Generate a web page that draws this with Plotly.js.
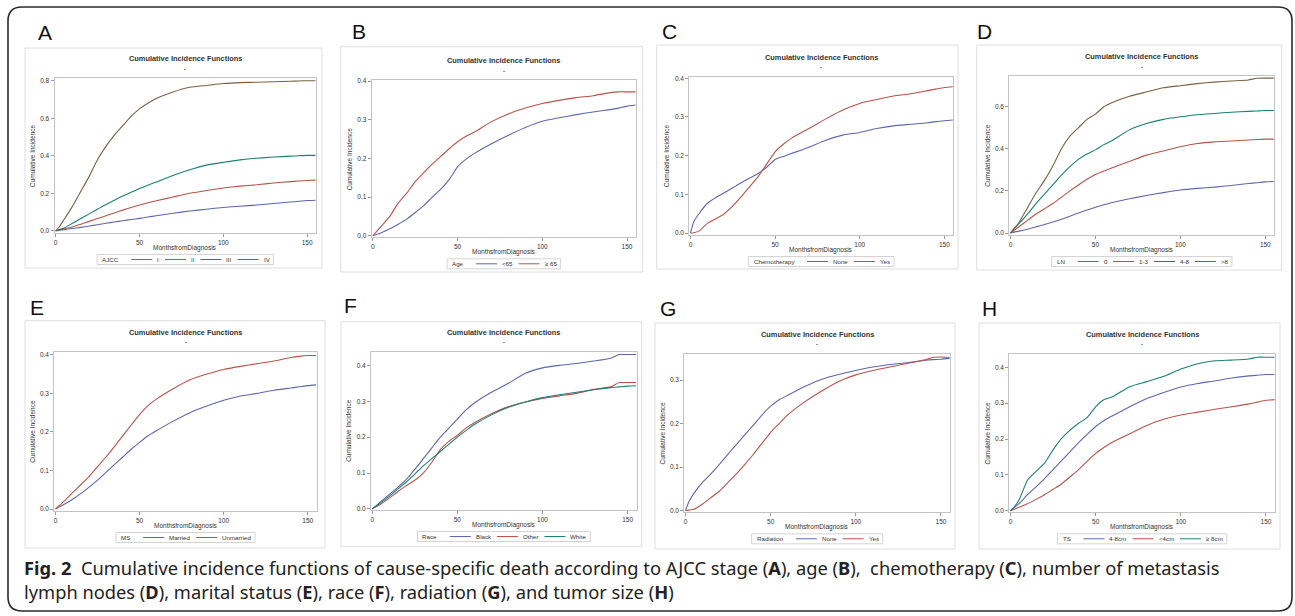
<!DOCTYPE html>
<html><head><meta charset="utf-8">
<script src="https://cdn.plot.ly/plotly-3.0.1.min.js"></script>
<style>html,body{margin:0;padding:0;background:#fff}#chart{width:1295px;height:616px}</style>
</head><body><div id="chart"></div>
<script>
// ---------------- DATA ----------------
const months = [0,2,5,10,15,20,25,30,35,40,45,50,55,60,70,80,90,100,110,120,130,140,145,150,155];

// A: AJCC stage
const ajcc_I   = [0,0.002,0.006,0.012,0.018,0.025,0.032,0.04,0.047,0.053,0.06,0.066,0.073,0.08,0.093,0.105,0.115,0.124,0.131,0.137,0.145,0.153,0.157,0.161,0.163];
const ajcc_II  = [0,0.004,0.01,0.02,0.035,0.05,0.065,0.08,0.095,0.11,0.124,0.137,0.149,0.16,0.18,0.2,0.215,0.228,0.238,0.245,0.255,0.262,0.265,0.268,0.27];
const ajcc_III = [0,0.006,0.015,0.04,0.065,0.09,0.115,0.14,0.163,0.185,0.205,0.225,0.243,0.26,0.295,0.325,0.35,0.365,0.378,0.387,0.393,0.398,0.4,0.402,0.402];
const ajcc_IV  = [0,0.02,0.06,0.13,0.21,0.29,0.38,0.45,0.51,0.56,0.61,0.65,0.68,0.705,0.74,0.765,0.775,0.785,0.79,0.792,0.795,0.797,0.799,0.8,0.8];
// B: Age
const age_lt65 = [0,0.003,0.008,0.018,0.03,0.043,0.06,0.078,0.1,0.12,0.145,0.178,0.198,0.213,0.238,0.26,0.28,0.296,0.305,0.313,0.32,0.326,0.33,0.335,0.338];
const age_ge65 = [0,0.01,0.025,0.05,0.085,0.11,0.14,0.163,0.185,0.205,0.225,0.243,0.257,0.268,0.295,0.315,0.33,0.342,0.35,0.357,0.362,0.37,0.372,0.372,0.372];
// C: Chemotherapy
const chemo_none = [0,0.03,0.05,0.077,0.092,0.104,0.117,0.13,0.142,0.154,0.17,0.19,0.198,0.206,0.222,0.24,0.253,0.26,0.27,0.277,0.281,0.285,0.288,0.29,0.292];
const chemo_yes  = [0,0.001,0.005,0.025,0.037,0.05,0.07,0.094,0.12,0.146,0.178,0.21,0.23,0.246,0.27,0.295,0.318,0.335,0.345,0.354,0.36,0.368,0.372,0.376,0.378];
// D: Lymph nodes
const ln_0    = [0,0.004,0.009,0.018,0.029,0.04,0.052,0.065,0.08,0.095,0.109,0.122,0.134,0.145,0.163,0.178,0.192,0.204,0.212,0.218,0.226,0.235,0.239,0.243,0.245];
const ln_1_3  = [0,0.012,0.03,0.06,0.09,0.115,0.14,0.17,0.2,0.228,0.255,0.278,0.295,0.31,0.34,0.37,0.39,0.41,0.425,0.433,0.437,0.442,0.444,0.446,0.446];
const ln_4_8  = [0,0.02,0.045,0.09,0.14,0.185,0.23,0.275,0.315,0.35,0.375,0.395,0.42,0.44,0.49,0.52,0.54,0.552,0.562,0.568,0.574,0.578,0.58,0.582,0.582];
const ln_gt8  = [0,0.02,0.05,0.12,0.19,0.25,0.32,0.4,0.46,0.5,0.54,0.565,0.6,0.62,0.65,0.67,0.69,0.7,0.71,0.717,0.722,0.727,0.735,0.736,0.736];
// E: Marital status
const ms_married   = [0,0.005,0.012,0.025,0.04,0.057,0.075,0.095,0.115,0.135,0.155,0.173,0.19,0.203,0.228,0.25,0.267,0.282,0.293,0.3,0.308,0.314,0.317,0.32,0.322];
const ms_unmarried = [0,0.008,0.02,0.042,0.063,0.085,0.11,0.135,0.162,0.19,0.218,0.245,0.268,0.285,0.312,0.335,0.35,0.362,0.37,0.377,0.384,0.393,0.396,0.398,0.398];
// F: Race
const race_black = [0,0.008,0.02,0.04,0.06,0.082,0.11,0.14,0.17,0.2,0.225,0.25,0.275,0.295,0.325,0.35,0.378,0.393,0.4,0.405,0.412,0.42,0.43,0.43,0.43];
const race_other = [0,0.005,0.013,0.03,0.048,0.065,0.08,0.1,0.13,0.165,0.188,0.205,0.225,0.24,0.265,0.285,0.298,0.308,0.315,0.322,0.333,0.34,0.352,0.352,0.352];
const race_white = [0,0.007,0.017,0.035,0.055,0.075,0.097,0.12,0.14,0.16,0.18,0.2,0.218,0.235,0.262,0.283,0.298,0.31,0.318,0.325,0.332,0.338,0.34,0.342,0.343];
// G: Radiation
const rad_none = [0,0.02,0.04,0.065,0.085,0.107,0.13,0.152,0.175,0.197,0.22,0.24,0.255,0.265,0.285,0.302,0.313,0.322,0.33,0.336,0.34,0.345,0.347,0.348,0.35];
const rad_yes  = [0,0.001,0.003,0.015,0.03,0.045,0.065,0.085,0.107,0.13,0.155,0.18,0.2,0.22,0.25,0.275,0.297,0.312,0.322,0.33,0.338,0.346,0.352,0.353,0.352];
// H: Tumor size
const ts_4_8 = [0,0.008,0.02,0.045,0.067,0.09,0.115,0.14,0.165,0.19,0.213,0.235,0.252,0.265,0.29,0.313,0.33,0.345,0.355,0.362,0.37,0.376,0.378,0.38,0.38];
const ts_lt4 = [0,0.004,0.01,0.02,0.032,0.045,0.06,0.075,0.095,0.115,0.138,0.16,0.177,0.192,0.215,0.238,0.255,0.267,0.275,0.283,0.29,0.298,0.303,0.308,0.31];
const ts_ge8 = [0,0.01,0.03,0.086,0.11,0.133,0.17,0.202,0.225,0.244,0.26,0.29,0.31,0.318,0.346,0.36,0.375,0.395,0.41,0.418,0.42,0.423,0.428,0.428,0.428];

const xTicks = [0,50,100,150];
const chartTitle = 'Cumulative Incidence Functions';
const xTitle = 'MonthsfromDiagnosis';
const yTitle = 'Cumulative Incidence';

// ---------------- STYLE / LAYOUT ----------------
const BLUE='#5d68ac', RED='#b8544a', TEAL='#1c8073', BROWN='#7b6044';
const W=1295, H=616;
const FONT='"Liberation Sans", Arial, sans-serif';

const panels = [
 {letter:'A', lt:'AJCC', names:['I','II','III','IV'], ys:[ajcc_I,ajcc_II,ajcc_III,ajcc_IV], cols:[BLUE,RED,TEAL,BROWN],
  frame:[54.5,316,78.3,233], box:[25,48,322,268], yr:[-0.012,0.813], yt:[0,0.2,0.4,0.6,0.8], lab:[36,33]},
 {letter:'B', lt:'Age', names:['<65','\u2265 65'], ys:[age_lt65,age_ge65], cols:[BLUE,RED],
  frame:[371.7,636,80,237.3], box:[340.7,46.7,642.7,272], yr:[-0.004,0.4026], yt:[0,0.1,0.2,0.3,0.4], lab:[350,32.5]},
 {letter:'C', lt:'Chemotherapy', names:['None','Yes'], ys:[chemo_none,chemo_yes], cols:[BLUE,RED],
  frame:[689.3,953.3,76.7,235], box:[656.7,45,958,269], yr:[-0.005,0.404], yt:[0,0.1,0.2,0.3,0.4], lab:[660,32.5]},
 {letter:'D', lt:'LN', names:['0','1-3','4-8','>8'], ys:[ln_0,ln_1_3,ln_4_8,ln_gt8], cols:[BLUE,RED,TEAL,BROWN],
  frame:[1009.3,1274.3,76,235], box:[976.7,45,1281.7,270], yr:[-0.0095,0.746], yt:[0,0.2,0.4,0.6], lab:[975,32]},
 {letter:'E', lt:'MS', names:['Married','Unmarried'], ys:[ms_married,ms_unmarried], cols:[BLUE,RED],
  frame:[54.3,316.7,351.7,511], box:[25,320.7,325,548], yr:[-0.005,0.408], yt:[0,0.1,0.2,0.3,0.4], lab:[28,308.5]},
 {letter:'F', lt:'Race', names:['Black','Other','White'], ys:[race_black,race_other,race_white], cols:[BLUE,RED,TEAL],
  frame:[371,636.7,351.7,510], box:[341,321.7,641.7,546.7], yr:[-0.003,0.438], yt:[0,0.1,0.2,0.3,0.4], lab:[341.7,306.5]},
 {letter:'G', lt:'Radiation', names:['None','Yes'], ys:[rad_none,rad_yes], cols:[BLUE,RED],
  frame:[684.3,950,354,512.3], box:[655,323,955,549], yr:[-0.004,0.36], yt:[0,0.1,0.2,0.3], lab:[658,309]},
 {letter:'H', lt:'TS', names:['4-8cm','<4cm','\u2265 8cm'], ys:[ts_4_8,ts_lt4,ts_ge8], cols:[BLUE,RED,TEAL],
  frame:[1009.3,1275,354,512.3], box:[979,323,1280,549], yr:[-0.004,0.437], yt:[0,0.1,0.2,0.3,0.4], lab:[980,309]}
];

const px = x => x/W, py = y => 1 - y/H;
const esc = s => s.replace(/&/g,'&amp;').replace(/</g,'&lt;').replace(/>/g,'&gt;');
const ctx = document.createElement('canvas').getContext('2d');
const LEGF = 6.2;
function tw(s, size){ ctx.font = size+'px "Liberation Sans"'; return ctx.measureText(s).width; }

const traces = [], shapes = [], annotations = [];
const layout = {width:W, height:H, margin:{l:0,r:0,t:0,b:0}, paper_bgcolor:'#fff', plot_bgcolor:'#fff', showlegend:false,
  font:{family:FONT, color:'#333'}};

panels.forEach((p,i) => {
  const k = i===0 ? '' : String(i+1);
  const [L,R,T,B] = p.frame;
  const axBase = {showline:true, mirror:true, linecolor:'#c4c4c4', linewidth:1, showgrid:false, zeroline:false,
     ticks:'outside', ticklen:3, tickcolor:'#9a9a9a', tickwidth:1, tickfont:{size:6.5, color:'#333', family:FONT}, fixedrange:true};
  layout['xaxis'+k] = Object.assign({}, axBase, {domain:[px(L),px(R)], range:[-0.7,155.3], tickvals:xTicks, anchor:'y'+k});
  layout['yaxis'+k] = Object.assign({}, axBase, {domain:[py(B),py(T)], range:p.yr, tickvals:p.yt, tickformat:'.1f', anchor:'x'+k});
  p.ys.forEach((y,j) => traces.push({x:months, y:y, type:'scatter', mode:'lines', xaxis:'x'+k, yaxis:'y'+k,
     line:{color:p.cols[j], width:1.1, shape:'spline', smoothing:0.5}, hoverinfo:'skip', name:p.names[j]}));
  // panel box
  shapes.push({type:'rect', xref:'paper', yref:'paper', x0:px(p.box[0]), x1:px(p.box[2]), y0:py(p.box[3]), y1:py(p.box[1]),
     line:{color:'#dedede', width:1}, layer:'below'});
  const cx = (L+R)/2;
  annotations.push({xref:'paper', yref:'paper', x:px(cx), y:py(T-19.5), text:'<b>'+chartTitle+'</b>', showarrow:false,
     font:{size:7.4, color:'#333', family:FONT}, xanchor:'center', yanchor:'middle'});
  annotations.push({xref:'paper', yref:'paper', x:px(cx), y:py(T-11), text:'<b>.</b>', showarrow:false,
     font:{size:7, color:'#333', family:FONT}, xanchor:'center', yanchor:'middle'});
  annotations.push({xref:'paper', yref:'paper', x:px(cx), y:py(B+15), text:xTitle, showarrow:false,
     font:{size:6.5, color:'#333', family:FONT}, xanchor:'center', yanchor:'middle'});
  annotations.push({xref:'paper', yref:'paper', x:px(L-22), y:py((T+B)/2), text:yTitle, showarrow:false, textangle:-90,
     font:{size:6.5, color:'#333', family:FONT}, xanchor:'center', yanchor:'middle'});
  annotations.push({xref:'paper', yref:'paper', x:px(p.lab[0]), y:py(p.lab[1]-1), text:p.letter, showarrow:false,
     font:{size:21, color:'#111', family:FONT}, xanchor:'left', yanchor:'middle'});
  // legend
  const LINE=21, GAP=4, PAD=4, TGAP=14, IGAP=7;
  let w = PAD + tw(p.lt, LEGF) + TGAP;
  p.names.forEach((n,j) => { w += LINE + GAP + tw(n, LEGF) + (j<p.names.length-1 ? IGAP : 0); });
  w += PAD + 1;
  const lx0 = cx - w/2, ly = B + 26.5;
  shapes.push({type:'rect', xref:'paper', yref:'paper', x0:px(lx0), x1:px(lx0+w), y0:py(ly+5), y1:py(ly-5),
     line:{color:'#d4d4d4', width:1}});
  let x = lx0 + PAD;
  annotations.push({xref:'paper', yref:'paper', x:px(x), y:py(ly), text:p.lt, showarrow:false,
     font:{size:LEGF, color:'#333', family:FONT}, xanchor:'left', yanchor:'middle', xshift:-1});
  x += tw(p.lt, LEGF) + TGAP;
  p.names.forEach((n,j) => {
    shapes.push({type:'line', xref:'paper', yref:'paper', x0:px(x), x1:px(x+LINE), y0:py(ly), y1:py(ly), line:{color:p.cols[j], width:1}});
    x += LINE + GAP;
    annotations.push({xref:'paper', yref:'paper', x:px(x), y:py(ly), text:esc(n), showarrow:false,
       font:{size:LEGF, color:'#333', family:FONT}, xanchor:'left', yanchor:'middle', xshift:-1});
    x += tw(n, LEGF) + IGAP;
  });
});

// outer rounded border
(function(){
  const x0=8, y0=7, x1=1292, y1=611, r=14;
  const P = (x,y) => px(x)+','+py(y);
  const d = 'M'+P(x0+r,y0)+' L'+P(x1-r,y0)+' Q'+P(x1,y0)+' '+P(x1,y0+r)+' L'+P(x1,y1-r)+' Q'+P(x1,y1)+' '+P(x1-r,y1)+
            ' L'+P(x0+r,y1)+' Q'+P(x0,y1)+' '+P(x0,y1-r)+' L'+P(x0,y0+r)+' Q'+P(x0,y0)+' '+P(x0+r,y0)+' Z';
  shapes.push({type:'path', xref:'paper', yref:'paper', path:d, line:{color:'#2a2a2a', width:1.6}});
})();

// caption
const CAPF = '"Noto Sans", "Open Sans", sans-serif';
const caption1 = '<b>Fig. 2</b>\u00a0\u00a0Cumulative incidence functions of cause-specific death according to AJCC stage (<b>A</b>), age (<b>B</b>),\u00a0\u00a0chemotherapy (<b>C</b>), number of metastasis';
const caption2 = 'lymph nodes (<b>D</b>), marital status (<b>E</b>), race (<b>F</b>), radiation (<b>G</b>), and tumor size (<b>H</b>)';
annotations.push({xref:'paper', yref:'paper', x:px(22), y:py(567), text:caption1, showarrow:false, xanchor:'left', yanchor:'middle',
   font:{size:18.3, color:'#222', family:CAPF}});
annotations.push({xref:'paper', yref:'paper', x:px(22), y:py(591), text:caption2, showarrow:false, xanchor:'left', yanchor:'middle',
   font:{size:18.3, color:'#222', family:CAPF}});

layout.shapes = shapes;
layout.annotations = annotations;
Plotly.newPlot('chart', traces, layout, {displayModeBar:false, staticPlot:true});
</script></body></html>
